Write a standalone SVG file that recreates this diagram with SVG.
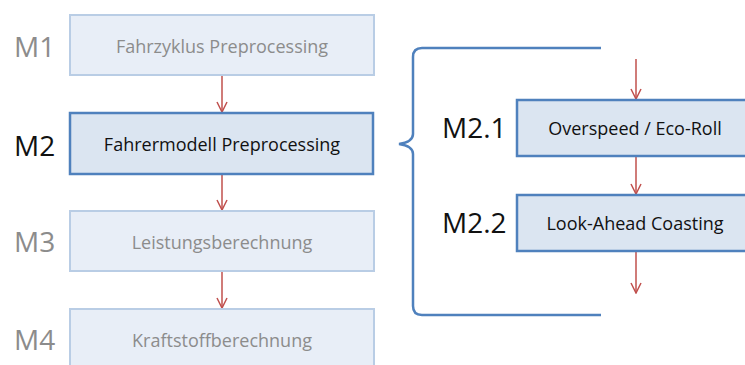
<svg xmlns="http://www.w3.org/2000/svg" width="745" height="365" viewBox="0 0 745 365">
<defs>
<style>
.lab{font-family:"Open Sans","Liberation Sans",sans-serif;font-size:28px}
.boxt{font-family:"Open Sans","Liberation Sans",sans-serif;font-size:18px;text-anchor:middle}
.faint{fill:#e8eef7;stroke:#b9cde5;stroke-width:2}
.main{fill:#dbe5f1;stroke:#4f81bd;stroke-width:2.5}
.arr{stroke:#c0504d;stroke-width:1.5;fill:none}
</style>
<marker id="ah" markerWidth="12" markerHeight="12" viewBox="0 0 12 12" refX="11" refY="6" orient="auto" markerUnits="userSpaceOnUse">
<path d="M1,1 L11,6 L1,11" fill="none" stroke="#c0504d" stroke-width="1.5"/>
</marker>
</defs>
<g id="connectors">
<line class="arr" x1="222" y1="76" x2="222" y2="112" marker-end="url(#ah)"/>
<line class="arr" x1="222" y1="175" x2="222" y2="210" marker-end="url(#ah)"/>
<line class="arr" x1="222" y1="272" x2="222" y2="308" marker-end="url(#ah)"/>
<line class="arr" x1="636" y1="59" x2="636" y2="99" marker-end="url(#ah)"/>
<line class="arr" x1="636" y1="157" x2="636" y2="194" marker-end="url(#ah)"/>
<line class="arr" x1="636" y1="252" x2="636" y2="293" marker-end="url(#ah)"/>
</g>
<g id="brace">
<path d="M601,48 L422,48 Q413,48 413,57 L413,134 Q413,142 399,144 Q413,146 413,154 L413,306 Q413,315 422,315 L601,315" fill="none" stroke="#4f81bd" stroke-width="2.5"/>
</g>
<g id="m1">
<text class="lab" x="14" y="57" fill="#8c8c8c">M1</text>
<rect class="faint" x="70" y="15" width="304" height="60"/>
<text class="boxt" x="222" y="53" fill="#8c8c8c">Fahrzyklus Preprocessing</text>
</g>
<g id="m2">
<text class="lab" x="14" y="156" fill="#111">M2</text>
<rect class="main" x="70" y="113" width="303" height="61"/>
<text class="boxt" x="222" y="151" fill="#111">Fahrermodell Preprocessing</text>
</g>
<g id="m3">
<text class="lab" x="14" y="252" fill="#8c8c8c">M3</text>
<rect class="faint" x="70" y="211" width="304" height="60"/>
<text class="boxt" x="222" y="249" fill="#8c8c8c">Leistungsberechnung</text>
</g>
<g id="m4">
<text class="lab" x="14" y="350" fill="#8c8c8c">M4</text>
<rect class="faint" x="70" y="309" width="304" height="70"/>
<text class="boxt" x="222" y="347" fill="#8c8c8c">Kraftstoffberechnung</text>
</g>
<g id="m21">
<text class="lab" x="442" y="138" fill="#111">M2.1</text>
<rect class="main" x="517" y="100" width="240" height="56"/>
<text class="boxt" x="635" y="135" fill="#111">Overspeed / Eco-Roll</text>
</g>
<g id="m22">
<text class="lab" x="442" y="233" fill="#111">M2.2</text>
<rect class="main" x="517" y="195" width="240" height="56"/>
<text class="boxt" x="635" y="230" fill="#111">Look-Ahead Coasting</text>
</g>
</svg>
